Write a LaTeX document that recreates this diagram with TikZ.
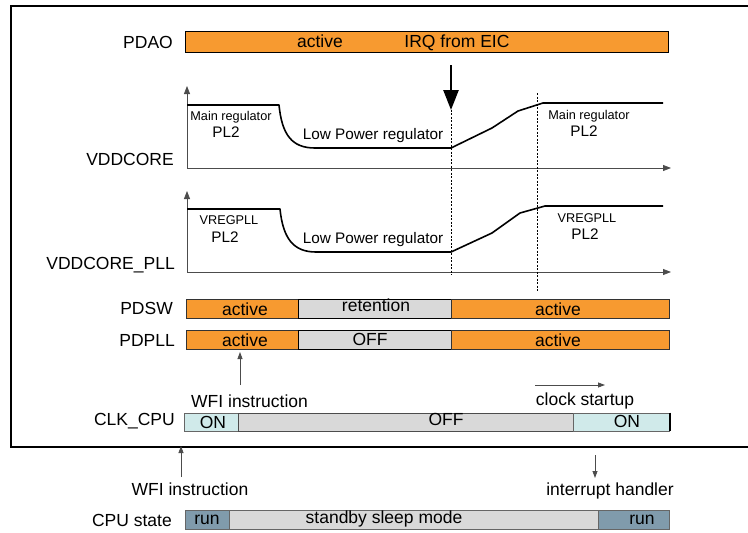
\documentclass[tikz,border=0pt]{standalone}
\usepackage{fontspec}
\setmainfont{Liberation Sans}
\usetikzlibrary{arrows.meta}
\definecolor{pdorange}{RGB}{247,154,48}
\definecolor{pdgray}{RGB}{217,217,217}
\definecolor{clkon}{RGB}{208,234,234}
\definecolor{cpurun}{RGB}{128,155,172}
\tikzset{
  lbl/.style={anchor=east,font=\fontsize{17.5}{17.5}\selectfont,inner sep=0pt},
  seg/.style={draw=black!80,line width=0.8pt,inner sep=0pt,minimum height=19pt,
              anchor=west},
  oseg/.style={seg,fill=pdorange},
  gseg/.style={seg,fill=pdgray,draw=black,line width=1pt},
  cseg/.style={seg,fill=clkon,draw=black!60},
  rseg/.style={seg,fill=cpurun,draw=black!60},
  note/.style={font=\fontsize{17.5}{17.5}\selectfont,inner sep=0pt},
  small/.style={font=\fontsize{12.7}{13}\selectfont,inner sep=0pt},
  mid/.style={font=\fontsize{15.3}{15.3}\selectfont,inner sep=0pt},
  axis/.style={draw=black!70,line width=0.8pt,-{Triangle[length=8pt,width=6pt]}},
  curve/.style={line width=1.6pt,line join=round},
  marker/.style={black,line width=0.7pt,dash pattern=on 2pt off 1.5pt},
  ptr/.style={draw=black!70,line width=0.8pt,-{Triangle[length=7pt,width=5pt]}},
}
\begin{document}
\begin{tikzpicture}[x=1pt,y=-1pt]
\useasboundingbox (0,0) rectangle (748,533);
% outer frame (open on the right)
\draw[line width=1.5pt] (760,6) -- (11,6) -- (11,447) -- (760,447);

% PDAO
\node[lbl] (pdaoL) at (173,42) {PDAO};
\node[oseg,minimum width=483pt,minimum height=21pt,draw=black] (pdao) at (185,41.5) {};
\node[note] (pdaoA) at (320,41) {active};
\node[note] (pdaoI) at (457,43) {IRQ from EIC};

% VDDCORE graph
\node[lbl] (vcL) at (174,159) {VDDCORE};
\coordinate (vcO) at (187,168);
\draw[axis] (vcO) -- (187,86);
\draw[axis] (vcO) -- (671,168);
\draw[curve] (187,105) -- (279,105) .. controls (282,135) and (292,148) .. (315,148)
  -- (451,148) -- (492,128) -- (518,111) -- (543,103) -- (663,103);
\node[small] (vcM1) at (231,117) {Main regulator};
\node[mid] (vcP1) at (226,132) {PL2};
\node[mid] (vcLP) at (373,136) {Low Power regulator};
\node[small] (vcM2) at (589,116) {Main regulator};
\node[mid] (vcP2) at (584,131) {PL2};

% VDDCORE_PLL graph
\node[lbl] (vpL) at (175,265) {VDDCORE\_PLL};
\coordinate (vpO) at (187,272);
\draw[axis] (vpO) -- (187,191);
\draw[axis] (vpO) -- (671,272);
\draw[curve] (187,209) -- (280,209) .. controls (283,238) and (293,252) .. (316,252)
  -- (451,252) -- (492,233) -- (520,213) -- (545,206) -- (663,206);
\node[small] (vpV1) at (229,220) {VREGPLL};
\node[mid] (vpP1) at (225,237) {PL2};
\node[mid] (vpLP) at (373,240) {Low Power regulator};
\node[small] (vpV2) at (587,218) {VREGPLL};
\node[mid] (vpP2) at (585,234) {PL2};

% wake-up markers
\draw[marker] (451,106) -- (451,275);
\draw[marker] (537,93) -- (537,292);
\coordinate (irqTop) at (451,65);
\coordinate (irqTip) at (451,110);
\draw[line width=2.6pt,-{Triangle[length=20pt,width=15pt]}] (irqTop) -- (irqTip);

% PDSW
\node[lbl] (pdswL) at (173,308) {PDSW};
\node[oseg,minimum width=112pt] (sw1) at (186,308.5) {};
\node[gseg,minimum width=153pt] (sw2) at (298,308.5) {};
\node[oseg,minimum width=218pt] (sw3) at (451,308.5) {};
\node[note] at (245,309) {active};
\node[note] at (376,305) {retention};
\node[note] at (558,309) {active};

% PDPLL
\node[lbl] (pdpllL) at (175,340) {PDPLL};
\node[oseg,minimum width=112pt] (pl1) at (186,340) {};
\node[gseg,minimum width=153pt] (pl2) at (298,340) {};
\node[oseg,minimum width=218pt] (pl3) at (451,340) {};
\node[note] at (245,340) {active};
\node[note] at (370,339) {OFF};
\node[note] at (558,340) {active};

% WFI / clock startup annotations
\node[note,anchor=west] (wfi1) at (191,401) {WFI instruction};
\coordinate (wfi1s) at (240,385);
\coordinate (wfi1e) at (240,352);
\draw[ptr] (wfi1s) -- (wfi1e);
\node[note] (clks) at (585,401) {clock startup};
\coordinate (clka) at (535,385);
\coordinate (clkb) at (605,385);
\draw[ptr] (clka) -- (clkb);

% CLK_CPU
\node[lbl] (clkL) at (175,421) {CLK\_CPU};
\node[cseg,minimum width=54pt,minimum height=18pt] (ck1) at (184,422) {};
\node[gseg,minimum width=335pt,minimum height=18pt,draw=black!70] (ck2) at (238,422) {};
\node[cseg,minimum width=96pt,minimum height=18pt] (ck3) at (573,422) {};
\draw[line width=1.4pt] (ck3.north east) -- (ck3.south east);
\node[note] at (213,422) {ON};
\node[note] at (446,419) {OFF};
\node[note] at (627,421) {ON};

% below the frame
\node[note] (wfi2) at (190,489) {WFI instruction};
\coordinate (wfi2s) at (181,477);
\coordinate (wfi2e) at (181,446);
\draw[ptr] (wfi2s) -- (wfi2e);
\node[note] (irqh) at (610,491) {interrupt handler};
\coordinate (irqhs) at (595,455);
\coordinate (irqhe) at (595,478);
\draw[ptr] (irqhs) -- (irqhe);

% CPU state
\node[lbl] (cpuL) at (172,520) {CPU state};
\node[rseg,minimum width=44pt] (cpu1) at (185,519.5) {};
\node[gseg,minimum width=369pt,draw=black!60,line width=0.8pt] (cpu2) at (229,519.5) {};
\node[rseg,minimum width=71pt] (cpu3) at (598,519.5) {};
\node[note] at (207,520) {run};
\node[note] at (384,519) {standby sleep mode};
\node[note] at (642,520) {run};
\end{tikzpicture}
\end{document}
